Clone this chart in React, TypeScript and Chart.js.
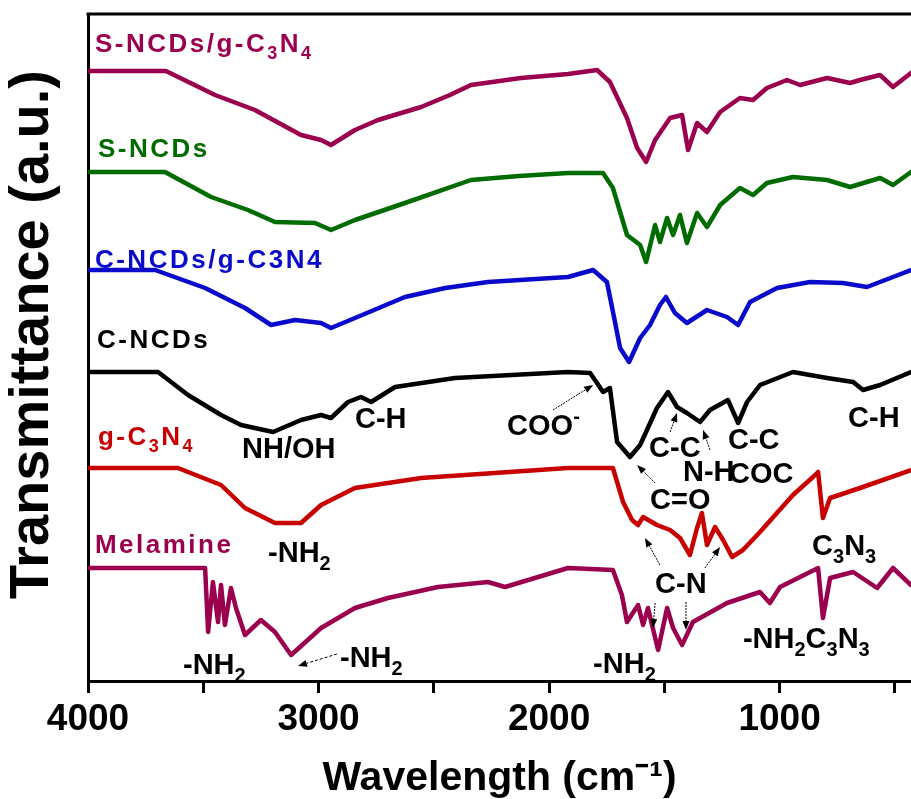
import React, { useEffect, useRef } from 'react';
import { Chart, registerables } from 'chart.js';

Chart.register(...registerables);

// ---------- axis ----------
const X_MIN = 430;
const X_MAX = 4000;
const xTickValues = [4000, 3500, 3000, 2500, 2000, 1500, 1000, 500];
const xTickLabels = ['4000', '', '3000', '', '2000', '', '1000', ''];
const Y_MIN = 0;
const Y_MAX = 667;
const xTitle = 'Wavelength (cm⁻¹)';
const yTitle = 'Transmittance (a.u.)';

// ---------- series (wavenumber cm-1, transmittance a.u., offset stacked) ----------
const seriesNames = ['S-NCDs/g-C3N4', 'S-NCDs', 'C-NCDs/g-C3N4', 'C-NCDs', 'g-C3N4', 'Melamine'];
const seriesColors = ['#9b004f', '#006c00', '#0a0acb', '#000000', '#c80000', '#9b004f'];

const sNcdGcn: [number, number][] = [
  [4000, 610], [3662, 610], [3449, 586], [3276, 571], [3076, 546], [2989, 541], [2946, 536],
  [2842, 551], [2742, 561], [2555, 574], [2430, 586], [2339, 596], [2122, 603], [1918, 607], [1792, 611],
  [1736, 599], [1662, 563], [1618, 533], [1579, 519], [1540, 541], [1475, 563], [1423, 566],
  [1397, 531], [1358, 558], [1315, 549], [1258, 569], [1172, 583], [1115, 581], [1055, 593],
  [968, 601], [911, 596], [794, 603], [694, 598], [651, 601], [564, 606], [508, 594], [430, 608],
];
const sNcd: [number, number][] = [
  [4000, 509], [3666, 509], [3466, 484], [3306, 471], [3189, 459], [3015, 458], [2946, 451],
  [2842, 461], [2625, 478], [2339, 501], [2130, 505], [1918, 508], [1766, 508], [1723, 493], [1662, 446],
  [1605, 436], [1579, 419], [1540, 456], [1519, 439], [1488, 463], [1462, 446], [1432, 466],
  [1402, 438], [1358, 468], [1315, 454], [1258, 476], [1172, 493], [1115, 486], [1055, 498],
  [942, 504], [794, 501], [694, 494], [564, 503], [508, 496], [430, 509],
];
const cNcdGcn: [number, number][] = [
  [4000, 411], [3709, 411], [3492, 393], [3319, 373], [3206, 356], [3102, 361], [2989, 358],
  [2946, 353], [2842, 363], [2625, 384], [2450, 393], [2265, 399], [1918, 404], [1809, 411], [1749, 399],
  [1714, 359], [1692, 333], [1653, 319], [1605, 343], [1562, 356], [1519, 376], [1493, 384],
  [1454, 368], [1402, 358], [1315, 371], [1228, 364], [1180, 356], [1128, 379], [1011, 393],
  [868, 399], [725, 398], [621, 394], [508, 404], [430, 411],
];
const cNcd: [number, number][] = [
  [4000, 309], [3696, 309], [3566, 286], [3423, 266], [3336, 256], [3197, 249], [3076, 261],
  [2989, 266], [2946, 263], [2872, 279], [2816, 284], [2772, 279], [2668, 294], [2408, 303],
  [1918, 309], [1822, 308], [1792, 298], [1766, 289], [1736, 293], [1705, 239], [1649, 224],
  [1605, 236], [1532, 273], [1484, 289], [1445, 274], [1402, 268], [1345, 259], [1302, 271],
  [1224, 281], [1180, 258], [1141, 279], [1085, 296], [942, 309], [794, 303], [681, 299],
  [638, 291], [564, 296], [430, 309],
];
const gCn: [number, number][] = [
  [4000, 213], [3610, 213], [3423, 196], [3319, 173], [3189, 158], [3076, 158], [2989, 176],
  [2842, 193], [2555, 203], [1918, 213], [1723, 213], [1679, 179], [1640, 161], [1614, 156],
  [1592, 164], [1532, 156], [1475, 151], [1432, 143], [1389, 126], [1358, 153], [1337, 168],
  [1315, 136], [1280, 154], [1245, 141], [1206, 124], [1159, 131], [1085, 149], [942, 186],
  [855, 204], [833, 209], [812, 163], [781, 183], [651, 193], [430, 211],
];
const melamine: [number, number][] = [
  [4000, 113], [3492, 113], [3479, 49], [3458, 99], [3436, 59], [3423, 96], [3406, 56],
  [3380, 93], [3358, 73], [3319, 46], [3250, 61], [3189, 49], [3119, 26], [2989, 53],
  [2842, 73], [2699, 83], [2482, 94], [2265, 99], [2191, 94], [1918, 113], [1723, 111],
  [1684, 86], [1662, 59], [1614, 76], [1592, 56], [1571, 73], [1527, 31], [1488, 73],
  [1462, 53], [1423, 36], [1376, 59], [1228, 78], [1085, 89], [1042, 78], [998, 94],
  [833, 113], [812, 63], [781, 103], [681, 109], [577, 93], [508, 113], [430, 96],
];
const seriesData = [sNcdGcn, sNcd, cNcdGcn, cNcd, gCn, melamine];

// ---------- text labels (rich parts: n = normal, sub, sup) ----------
type Part = [string, 'n' | 'sub' | 'sup'];
const seriesLabelParts: Part[][] = [
  [['S-NCDs/g-C', 'n'], ['3', 'sub'], ['N', 'n'], ['4', 'sub']],
  [['S-NCDs', 'n']],
  [['C-NCDs/g-C3N4', 'n']],
  [['C-NCDs', 'n']],
  [['g-C', 'n'], ['3', 'sub'], ['N', 'n'], ['4', 'sub']],
  [['Melamine', 'n']],
];
const seriesLabelWave = [3970, 3957, 3970, 3961, 3957, 3970];
const seriesLabelY = [629, 524, 413, 333, 236, 128];

const annotParts: Part[][] = [
  [['NH/OH', 'n']],
  [['C-H', 'n']],
  [['COO', 'n'], ['-', 'sup']],
  [['C-C', 'n']],
  [['N-H', 'n']],
  [['COC', 'n']],
  [['C-C', 'n']],
  [['C-H', 'n']],
  [['C=O', 'n']],
  [['C-N', 'n']],
  [['C', 'n'], ['3', 'sub'], ['N', 'n'], ['3', 'sub']],
  [['-NH', 'n'], ['2', 'sub'], ['C', 'n'], ['3', 'sub'], ['N', 'n'], ['3', 'sub']],
  [['-NH', 'n'], ['2', 'sub']],
  [['-NH', 'n'], ['2', 'sub']],
  [['-NH', 'n'], ['2', 'sub']],
  [['-NH', 'n'], ['2', 'sub']],
];
const annotWave = [3332, 2842, 2182, 1566, 1419, 1219, 1224, 703, 1562, 1540, 859, 1159, 3219, 3588, 2907, 1809];
const annotY = [223, 253, 246, 224, 200, 198, 232, 254, 172, 88, 126, 33, 119, 7, 14, 8];

// arrows: [fromWave, fromY, toWave, toY, dashed]
const arrows: [number, number, number, number, number][] = [
  [1983, 271, 1809, 296, 0],
  [1475, 249, 1445, 268, 0],
  [1302, 231, 1332, 251, 0],
  [1540, 198, 1618, 216, 0],
  [1519, 116, 1584, 143, 0],
  [1324, 113, 1258, 134, 0],
  [1540, 78, 1549, 53, 0],
  [1406, 79, 1406, 51, 0],
  [2920, 27, 3089, 15, 1],
];

const FAMILY = "'Liberation Sans', Arial, sans-serif";

function drawRich(ctx: CanvasRenderingContext2D, parts: Part[], x: number, y: number, size: number, spacing: number) {
  let cx = x;
  for (const [t, k] of parts) {
    const fs = k === 'n' ? size : Math.round(size * 0.68);
    ctx.font = `bold ${fs}px ${FAMILY}`;
    (ctx as any).letterSpacing = `${spacing}px`;
    const dy = k === 'sub' ? size * 0.27 : k === 'sup' ? -size * 0.42 : 0;
    ctx.fillText(t, cx, y + dy);
    cx += ctx.measureText(t).width;
  }
}

function drawArrow(ctx: CanvasRenderingContext2D, x1: number, y1: number, x2: number, y2: number, dashed: boolean) {
  const ang = Math.atan2(y2 - y1, x2 - x1);
  const hl = 9;
  const hw = 3.5;
  const bx = x2 - hl * Math.cos(ang);
  const by = y2 - hl * Math.sin(ang);
  ctx.save();
  ctx.strokeStyle = '#000';
  ctx.fillStyle = '#000';
  ctx.lineWidth = 1;
  ctx.setLineDash(dashed ? [3, 2] : [2, 1]);
  ctx.beginPath();
  ctx.moveTo(x1, y1);
  ctx.lineTo(bx, by);
  ctx.stroke();
  ctx.setLineDash([]);
  ctx.beginPath();
  ctx.moveTo(x2, y2);
  ctx.lineTo(bx + hw * Math.sin(ang), by - hw * Math.cos(ang));
  ctx.lineTo(bx - hw * Math.sin(ang), by + hw * Math.cos(ang));
  ctx.closePath();
  ctx.fill();
  ctx.restore();
}

const annotPlugin = {
  id: 'ftirAnnotations',
  afterDraw(chart: any) {
    const { ctx, chartArea } = chart;
    const xs = chart.scales.x;
    const ys = chart.scales.y;
    ctx.save();
    // top frame line
    ctx.strokeStyle = '#000';
    ctx.lineWidth = 3;
    ctx.beginPath();
    ctx.moveTo(chartArea.left - 1.5, chartArea.top);
    ctx.lineTo(chartArea.right + 2, chartArea.top);
    ctx.stroke();

    // y axis title (rotated)
    ctx.save();
    ctx.translate(33, (chartArea.top + chartArea.bottom) / 2 - 13);
    ctx.rotate(-Math.PI / 2);
    ctx.textAlign = 'center';
    ctx.textBaseline = 'middle';
    ctx.fillStyle = '#000';
    ctx.font = `bold 56px ${FAMILY}`;
    ctx.fillText(yTitle, 0, 0);
    ctx.restore();

    ctx.textAlign = 'left';
    ctx.textBaseline = 'alphabetic';
    // series labels
    seriesLabelParts.forEach((parts, i) => {
      ctx.fillStyle = seriesColors[i];
      drawRich(ctx, parts, xs.getPixelForValue(seriesLabelWave[i]), ys.getPixelForValue(seriesLabelY[i]), 26, 2.5);
    });
    // band annotations
    ctx.fillStyle = '#000';
    annotParts.forEach((parts, i) => {
      drawRich(ctx, parts, xs.getPixelForValue(annotWave[i]), ys.getPixelForValue(annotY[i]), 29, 0);
    });
    (ctx as any).letterSpacing = '0px';
    arrows.forEach(([w1, v1, w2, v2, d]) => {
      drawArrow(ctx, xs.getPixelForValue(w1), ys.getPixelForValue(v1), xs.getPixelForValue(w2), ys.getPixelForValue(v2), d === 1);
    });
    ctx.restore();
  },
};

export default function App() {
  const canvasRef = useRef<HTMLCanvasElement | null>(null);

  useEffect(() => {
    if (!canvasRef.current) return;
    const chart = new Chart(canvasRef.current, {
      type: 'line',
      data: {
        datasets: seriesData.map((arr, i) => ({
          label: seriesNames[i],
          data: arr.map(([w, v]) => ({ x: w, y: v })),
          borderColor: seriesColors[i],
          backgroundColor: seriesColors[i],
          borderWidth: 4.5,
          pointRadius: 0,
          tension: 0,
          fill: false,
          borderJoinStyle: 'round' as const,
          borderCapStyle: 'round' as const,
        })),
      },
      options: {
        animation: false,
        responsive: false,
        layout: { padding: { top: 14, right: 0, left: 0, bottom: 0 } },
        plugins: { legend: { display: false }, tooltip: { enabled: false } },
        scales: {
          x: {
            type: 'linear',
            min: X_MIN,
            max: X_MAX,
            reverse: true,
            afterFit: (scale: any) => { scale.height = 118; },
            afterBuildTicks: (scale: any) => { scale.ticks = xTickValues.map((v) => ({ value: v })); },
            ticks: {
              autoSkip: false,
              maxRotation: 0,
              padding: 5,
              color: '#000',
              font: { family: FAMILY, size: 37, weight: 'bold' },
              callback: (value: any) => {
                const idx = xTickValues.indexOf(Number(value));
                return idx >= 0 ? xTickLabels[idx] : '';
              },
            },
            grid: { drawOnChartArea: false, drawTicks: true, tickLength: 12, tickWidth: 3, tickColor: '#000' },
            border: { display: true, color: '#000', width: 3 },
            title: {
              display: true,
              text: xTitle,
              color: '#000',
              font: { family: FAMILY, size: 41, weight: 'bold', lineHeight: 1 },
              padding: { top: 0, bottom: 0 },
            },
          },
          y: {
            type: 'linear',
            min: Y_MIN,
            max: Y_MAX,
            afterFit: (scale: any) => { scale.width = 88; },
            ticks: { display: false },
            grid: { drawOnChartArea: false, drawTicks: false },
            border: { display: true, color: '#000', width: 3 },
            title: { display: false, text: yTitle },
          },
        },
      },
      plugins: [annotPlugin],
    });
    return () => chart.destroy();
  }, []);

  return (
    <div style={{ position: 'fixed', left: 0, top: 0, width: 911, height: 799, background: '#fff' }}>
      <canvas ref={canvasRef} width={911} height={799} style={{ display: 'block' }} />
    </div>
  );
}
